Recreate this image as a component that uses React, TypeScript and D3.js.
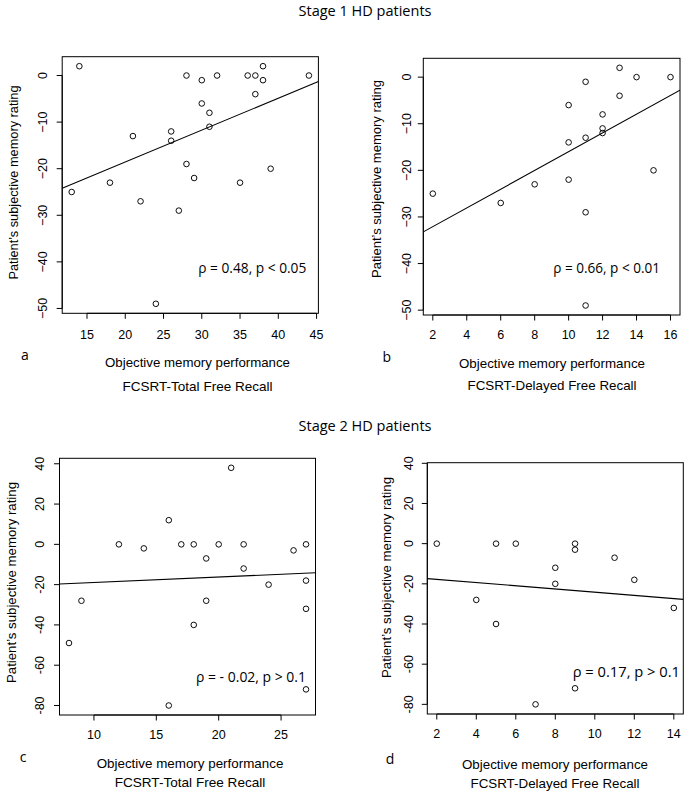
import React from "react";
import * as d3 from "d3";

// ---------- data ----------
const stage1TotalRecall = [14, 13, 18, 21, 22, 24, 26, 26, 27, 28, 28, 29, 30, 30, 31, 31, 32, 35, 36, 37, 37, 38, 38, 39, 44];
const stage1TotalRating = [2, -25, -23, -13, -27, -49, -12, -14, -29, 0, -19, -22, -1, -6, -8, -11, 0, -23, 0, 0, -4, 2, -1, -20, 0];

const stage1DelayedRecall = [2, 6, 8, 10, 10, 10, 11, 11, 11, 11, 12, 12, 12, 13, 13, 14, 15, 16];
const stage1DelayedRating = [-25, -27, -23, -6, -14, -22, -1, -13, -29, -49, -8, -11, -12, 2, -4, 0, -20, 0];

const stage2TotalRecall = [8, 9, 12, 14, 16, 16, 17, 18, 18, 19, 19, 20, 21, 22, 22, 24, 26, 27, 27, 27, 27];
const stage2TotalRating = [-49, -28, 0, -2, 12, -80, 0, 0, -40, -7, -28, 0, 38, 0, -12, -20, -3, 0, -18, -32, -72];

const stage2DelayedRecall = [2, 4, 5, 5, 6, 7, 8, 8, 9, 9, 9, 11, 12, 14];
const stage2DelayedRating = [0, -28, 0, -40, 0, -80, -12, -20, 0, -3, -72, -7, -18, -32];

// regression lines (intercept, slope) per panel a–d
const fitIntercepts = [-32.25, -36.1, -21.68, -16.18];
const fitSlopes = [0.6846, 2.01, 0.273, -0.797];

const xTicksA = [15, 20, 25, 30, 35, 40, 45];
const xTicksB = [2, 4, 6, 8, 10, 12, 14, 16];
const xTicksC = [10, 15, 20, 25];
const xTicksD = [2, 4, 6, 8, 10, 12, 14];
const yTicksStage1 = [0, -10, -20, -30, -40, -50];
const yTicksStage2 = [40, 20, 0, -20, -40, -60, -80];

const stageTitles = ["Stage 1 HD patients", "Stage 2 HD patients"];
const panelLetters = ["a", "b", "c", "d"];
const xTitleTop = "Objective memory performance";
const xTitleBottom = ["FCSRT-Total Free Recall", "FCSRT-Delayed Free Recall", "FCSRT-Total Free Recall", "FCSRT-Delayed Free Recall"];
const yTitle = "Patient\u2019s subjective memory rating";
const statLabels = ["\u03c1 = 0.48, p < 0.05", "\u03c1 = 0.66, p < 0.01", "\u03c1  = - 0.02, p > 0.1", "\u03c1 = 0.17, p > 0.1"];

// ---------- layout ----------
const FONT_R = "'Liberation Sans', Arial, Helvetica, sans-serif";
const FONT_M = "'Open Sans', 'Noto Sans', sans-serif";

type Layout = {
  l: number; r: number; t: number; b: number;
  yDomain?: [number, number];
  yTickX: number; yTitleX: number; yTitleY: number; yTitleLen: number;
  xTickY: number; letterX: number; letterY: number;
  xTitleX: number; xTitle1Y: number; xTitle2Y: number; xTitle1Len: number; xTitle2Len: number;
  statX: number; statY: number; statLen: number;
  minus: string;
};

const layouts: Layout[] = [
  { l: 62.2, r: 318.4, t: 56.7, b: 313.3, yTickX: 42.7, yTitleX: 13.3, yTitleY: 182.5, yTitleLen: 194,
    xTickY: 335, letterX: 25, letterY: 355, xTitleX: 197.5, xTitle1Y: 362.7, xTitle2Y: 386.7, xTitle1Len: 185, xTitle2Len: 150,
    statX: 198.3, statY: 268.3, statLen: 108, minus: "\u2212" },
  { l: 423.3, r: 680, t: 58.3, b: 315, yTickX: 406.7, yTitleX: 376.7, yTitleY: 179, yTitleLen: 198,
    xTickY: 335, letterX: 386.7, letterY: 356.7, xTitleX: 552, xTitle1Y: 363.3, xTitle2Y: 385.7, xTitle1Len: 186, xTitle2Len: 169,
    statX: 553.3, statY: 268.3, statLen: 106.7, minus: "\u2212" },
  { l: 59.5, r: 315.5, t: 458.3, b: 715, yTickX: 40, yTitleX: 11.7, yTitleY: 582.5, yTitleLen: 201,
    xTickY: 735, letterX: 23, letterY: 757, xTitleX: 190, xTitle1Y: 763.5, xTitle2Y: 782, xTitle1Len: 186.7, xTitle2Len: 150.7,
    statX: 196, statY: 676.7, statLen: 110, minus: "-" },
  { l: 427.3, r: 683.3, t: 462.7, b: 714, yDomain: [-84.8, 40.3], yTickX: 408.3, yTitleX: 386.7, yTitleY: 577.5, yTitleLen: 201,
    xTickY: 733.3, letterX: 390, letterY: 759, xTitleX: 555, xTitle1Y: 764, xTitle2Y: 783, xTitle1Len: 186, xTitle2Len: 169,
    statX: 572.7, statY: 672.3, statLen: 107.3, minus: "-" },
];

const panelData = [
  { xs: stage1TotalRecall, ys: stage1TotalRating, xTicks: xTicksA, yTicks: yTicksStage1 },
  { xs: stage1DelayedRecall, ys: stage1DelayedRating, xTicks: xTicksB, yTicks: yTicksStage1 },
  { xs: stage2TotalRecall, ys: stage2TotalRating, xTicks: xTicksC, yTicks: yTicksStage2 },
  { xs: stage2DelayedRecall, ys: stage2DelayedRating, xTicks: xTicksD, yTicks: yTicksStage2 },
];

function padded(vals: number[]): [number, number] {
  const [mn, mx] = d3.extent(vals) as [number, number];
  const p = (mx - mn) * 0.04;
  return [mn - p, mx + p];
}

function Panel({ idx }: { idx: number }) {
  const L = layouts[idx];
  const D = panelData[idx];
  const yDom = L.yDomain ?? padded(D.ys);
  const xDom = padded(D.xs);
  const x = d3.scaleLinear().domain(xDom).range([L.l, L.r]);
  const y = d3.scaleLinear().domain(yDom).range([L.b, L.t]);
  const a0 = fitIntercepts[idx];
  const a1 = fitSlopes[idx];
  const line = d3.line<number>().x((v) => x(v)).y((v) => y(a0 + a1 * v));
  const fmt = (v: number) => (v < 0 ? L.minus + Math.abs(v) : String(v));
  const xt0 = x(D.xTicks[0]), xt1 = x(D.xTicks[D.xTicks.length - 1]);
  const yt0 = y(D.yTicks[0]), yt1 = y(D.yTicks[D.yTicks.length - 1]);
  const clipId = `clip${idx}`;
  return (
    <g>
      <defs>
        <clipPath id={clipId}>
          <rect x={L.l} y={L.t} width={L.r - L.l} height={L.b - L.t} />
        </clipPath>
      </defs>
      <rect x={L.l} y={L.t} width={L.r - L.l} height={L.b - L.t} fill="none" stroke="#000" strokeWidth={1} />
      {/* x axis */}
      <line x1={xt0} x2={xt1} y1={L.b} y2={L.b} stroke="#000" />
      {D.xTicks.map((t) => (
        <g key={`xt${t}`}>
          <line x1={x(t)} x2={x(t)} y1={L.b} y2={L.b + 5.5} stroke="#000" />
          <text x={x(t)} y={L.xTickY} dy="0.35em" textAnchor="middle" fontFamily={FONT_R} fontSize={12.5}>
            {fmt(t)}
          </text>
        </g>
      ))}
      {/* y axis */}
      <line x1={L.l} x2={L.l} y1={yt0} y2={yt1} stroke="#000" />
      {D.yTicks.map((t) => (
        <g key={`yt${t}`}>
          <line x1={L.l - 5.5} x2={L.l} y1={y(t)} y2={y(t)} stroke="#000" />
          <text transform={`translate(${L.yTickX},${y(t)}) rotate(-90)`} dy="0.35em" textAnchor="middle" fontFamily={FONT_R} fontSize={12.5}>
            {fmt(t)}
          </text>
        </g>
      ))}
      {/* regression line */}
      <path d={line(xDom) || ""} fill="none" stroke="#000" strokeWidth={1.1} clipPath={`url(#${clipId})`} />
      {/* points */}
      {D.xs.map((v, i) => (
        <circle key={`p${i}`} cx={x(v)} cy={y(D.ys[i])} r={2.8} fill="none" stroke="#000" strokeWidth={0.95} />
      ))}
      {/* stat label */}
      <text x={L.statX} y={L.statY} dy="0.35em" fontFamily={FONT_M} fontSize={14} textLength={L.statLen} lengthAdjust="spacingAndGlyphs">
        {statLabels[idx]}
      </text>
      {/* y title */}
      <text transform={`translate(${L.yTitleX},${L.yTitleY}) rotate(-90)`} dy="0.35em" textAnchor="middle" fontFamily={FONT_R} fontSize={13.5}
        textLength={L.yTitleLen} lengthAdjust="spacingAndGlyphs">
        {yTitle}
      </text>
      {/* x titles */}
      <text x={L.xTitleX} y={L.xTitle1Y} dy="0.35em" textAnchor="middle" fontFamily={FONT_R} fontSize={13.5}
        textLength={L.xTitle1Len} lengthAdjust="spacingAndGlyphs">
        {xTitleTop}
      </text>
      <text x={L.xTitleX} y={L.xTitle2Y} dy="0.35em" textAnchor="middle" fontFamily={FONT_R} fontSize={13.5}
        textLength={L.xTitle2Len} lengthAdjust="spacingAndGlyphs">
        {xTitleBottom[idx]}
      </text>
      {/* panel letter */}
      <text x={L.letterX} y={L.letterY} dy="0.35em" textAnchor="middle" fontFamily={FONT_M} fontSize={14}>
        {panelLetters[idx]}
      </text>
    </g>
  );
}

export default function App() {
  return (
    <svg width={689} height={791} style={{ position: "absolute", left: 0, top: 0, background: "#fff" }}>
      <rect x={0} y={0} width={689} height={791} fill="#fff" />
      <text x={365} y={15.5} textAnchor="middle" fontFamily={FONT_M} fontSize={14} textLength={133} lengthAdjust="spacingAndGlyphs">
        {stageTitles[0]}
      </text>
      <text x={365} y={431} textAnchor="middle" fontFamily={FONT_M} fontSize={14} textLength={133} lengthAdjust="spacingAndGlyphs">
        {stageTitles[1]}
      </text>
      {[0, 1, 2, 3].map((i) => (
        <Panel key={i} idx={i} />
      ))}
    </svg>
  );
}
